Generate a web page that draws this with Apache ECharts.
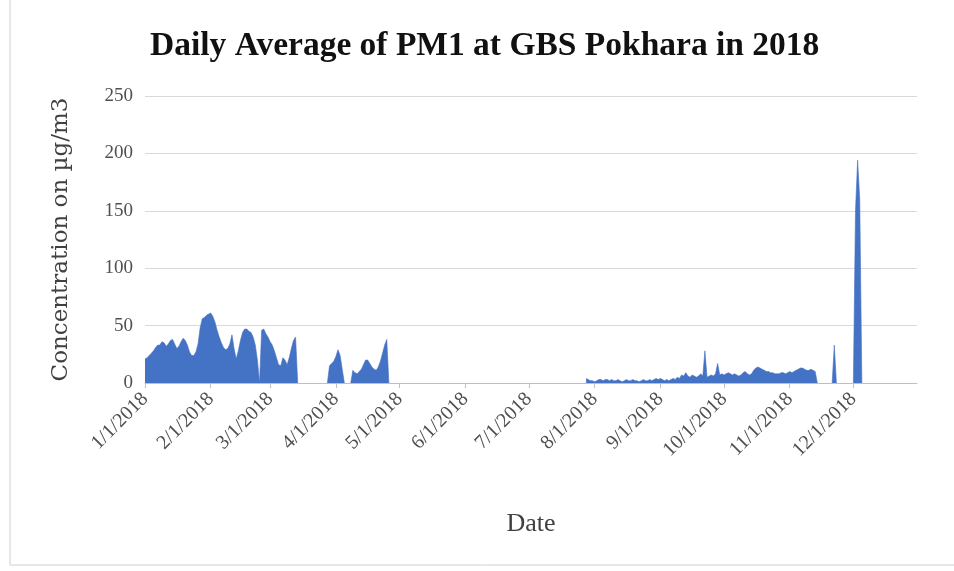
<!DOCTYPE html>
<html>
<head>
<meta charset="utf-8">
<script src="https://cdn.jsdelivr.net/npm/echarts@6/dist/echarts.min.js"></script>
<style>html,body{margin:0;padding:0;background:#fff}#chart{width:954px;height:571px}</style>
</head>
<body>
<div id="chart"></div>
<script>
// Chart text
const titleText = 'Daily Average of PM1 at GBS Pokhara in 2018';
const yAxisTitle = 'Concentration on µg/m3';
const xAxisTitle = 'Date';
const yTicks = [0, 50, 100, 150, 200, 250];

// Measured segments (start date, daily values; 0 where the area touches the axis)
const segJanFeb   = { start: '2018-01-01', values: [21,22,24,26,28,31,33,33,36,35,32,34,37,38,34,30,32,36,39,37,33,27,24,24,27,34,48,56,57,59,60,61,58,53,46,40,35,31,29,30,34,42,30,21,28,37,44,47,47,45,44,40,33,20,0] };
const segFebMar   = { start: '2018-02-25', values: [46,47,43,40,36,33,28,22,16,15,22,20,16,22,30,37,40,0] };
const segMarApr   = { start: '2018-03-28', values: [0,15,17,19,23,29,24,12,0] };
const segAprMay   = { start: '2018-04-08', values: [0,11,9,8,10,12,16,20,20,17,14,12,11,14,19,26,33,38,0] };
const segJulNov   = { start: '2018-07-28', values: [4,3,2,2,1,2,3,3,2,3,3,2,3,2,2,3,2,1,2,3,2,2,3,2,2,1,2,3,2,2,3,2,3,4,3,4,3,2,3,2,3,4,3,5,4,7,6,9,6,5,7,6,5,6,8,6,28,5,6,7,6,8,17,7,8,7,8,9,8,7,8,7,6,7,9,10,8,7,8,11,13,14,13,12,11,10,10,9,9,8,8,8,9,9,8,9,10,9,10,11,12,13,13,12,11,11,12,11,10,0] };
const segNov      = { start: '2018-11-21', values: [0,33,0] };
const segDec      = { start: '2018-12-01', values: [0,150,194,160,0] };
const segments = [segJanFeb, segFebMar, segMarApr, segAprMay, segJulNov, segNov, segDec];

// Build daily categories for 2018
const categories = [];
const dayIndex = {};
for (let d = new Date(Date.UTC(2018,0,1)); d.getUTCFullYear() === 2018; d.setUTCDate(d.getUTCDate()+1)) {
  const key = d.toISOString().slice(0,10);
  dayIndex[key] = categories.length;
  categories.push((d.getUTCMonth()+1) + '/' + d.getUTCDate() + '/' + d.getUTCFullYear());
}
const daily = new Array(categories.length).fill(null);
segments.forEach(s => {
  const i0 = dayIndex[s.start];
  s.values.forEach((v, k) => { daily[i0 + k] = v; });
});
const isMonthStart = (idx) => /^\d+\/1\/2018$/.test(categories[idx]);

const serif = '"Liberation Serif", "DejaVu Serif", serif';
const serifWide = '"DejaVu Serif", "Liberation Serif", serif';
const chart = echarts.init(document.getElementById('chart'));
chart.setOption({
  animation: false,
  backgroundColor: '#ffffff',
  title: {
    text: titleText, left: 145, top: 24,
    textStyle: { fontFamily: serif, fontWeight: 'bold', fontSize: 33.5, color: '#111111' }
  },
  graphic: [{
    type: 'rect', shape: { x: 10, y: -2, width: 950, height: 567 },
    style: { fill: 'none', stroke: '#d0d0d0', lineWidth: 1 }, silent: true
  }],
  grid: { left: 145, right: 37, top: 96, bottom: 188 },
  xAxis: {
    type: 'category', data: categories, boundaryGap: false,
    name: xAxisTitle, nameLocation: 'middle', nameGap: 128,
    nameTextStyle: { fontFamily: serif, fontSize: 26, color: '#404040' },
    axisLine: { lineStyle: { color: '#bfbfbf' } },
    axisTick: { show: true, interval: isMonthStart, length: 5, lineStyle: { color: '#bfbfbf' } },
    axisLabel: { interval: isMonthStart, rotate: 45, fontFamily: serif, fontSize: 20, color: '#505050', margin: 13 },
    splitLine: { show: false }
  },
  yAxis: {
    type: 'value', min: 0, max: 250, interval: 50,
    name: yAxisTitle, nameLocation: 'middle', nameGap: 72, nameRotate: 90,
    nameTextStyle: { fontFamily: serifWide, fontSize: 23, color: '#404040' },
    axisLine: { show: false }, axisTick: { show: false },
    axisLabel: { fontFamily: serif, fontSize: 19, color: '#505050', margin: 12,
      formatter: v => yTicks.includes(v) ? String(v) : '' },
    splitLine: { lineStyle: { color: '#d9d9d9', width: 1 } }
  },
  series: [{
    type: 'line', data: daily, showSymbol: false, symbol: 'none',
    connectNulls: false,
    lineStyle: { width: 0.6, color: '#4472C4' },
    areaStyle: { color: '#4472C4', opacity: 1 }
  }]
});
</script>
</body>
</html>
